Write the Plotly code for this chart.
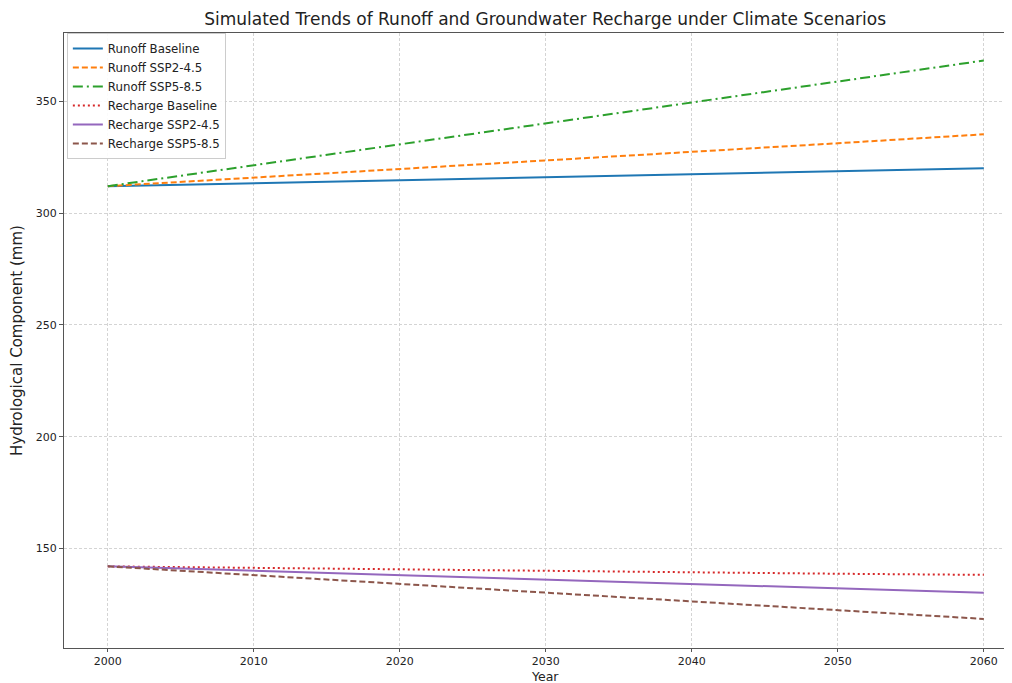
import plotly.graph_objects as go

years = [2000, 2010, 2020, 2030, 2040, 2050, 2060]
runoff_baseline = [312.0, 313.3, 314.8, 316.0, 317.3, 318.6, 320.0]
runoff_ssp245 = [312.0, 315.8, 319.7, 323.6, 327.4, 331.2, 335.2]
runoff_ssp585 = [312.0, 321.3, 330.7, 340.2, 349.4, 358.8, 368.2]
recharge_baseline = [142.0, 141.3, 140.7, 140.0, 139.3, 138.7, 138.2]
recharge_ssp245 = [142.0, 140.0, 138.1, 136.1, 134.1, 132.1, 130.2]
recharge_ssp585 = [142.0, 138.1, 134.2, 130.3, 126.3, 122.4, 118.5]

series = [
    ("Runoff Baseline", runoff_baseline, "#1f77b4", "solid"),
    ("Runoff SSP2-4.5", runoff_ssp245, "#ff7f0e", "6px,3px"),
    ("Runoff SSP5-8.5", runoff_ssp585, "#2ca02c", "10px,4px,2px,4px"),
    ("Recharge Baseline", recharge_baseline, "#d62728", "2px,3px"),
    ("Recharge SSP2-4.5", recharge_ssp245, "#9467bd", "solid"),
    ("Recharge SSP5-8.5", recharge_ssp585, "#8c564b", "6px,3px"),
]

fig = go.Figure()
for name, vals, color, dash in series:
    fig.add_trace(go.Scatter(x=years, y=vals, mode="lines", name=name,
                             line=dict(color=color, width=2, dash=dash)))

font = "DejaVu Sans, Liberation Sans, sans-serif"
plot_h = 675 - 25 - 35
fig.update_layout(
    width=1004, height=675,
    margin=dict(l=56, r=0, t=25, b=35),
    paper_bgcolor="white", plot_bgcolor="white",
    font=dict(family=font, size=11, color="#222"),
    title=dict(text="Simulated Trends of Runoff and Groundwater Recharge under Climate Scenarios",
               x=0.535, xref="container", y=0.984, yref="container", xanchor="center", yanchor="middle",
               font=dict(size=17, color="#222")),
    legend=dict(x=0.003, y=1.0, xanchor="left", yanchor="top",
                bgcolor="rgba(255,255,255,0.9)", bordercolor="#cccccc", borderwidth=1,
                font=dict(size=11.8), tracegroupgap=0, itemwidth=30),
    showlegend=True,
    annotations=[dict(text="Year", xref="paper", yref="paper", x=0.507, y=-35 / plot_h,
                      xanchor="center", yanchor="bottom", showarrow=False, yshift=-2,
                      borderpad=0, font=dict(size=12.5, color="#222"))],
)
fig.update_xaxes(
    range=[1997, 2061.93], tickvals=[2000, 2010, 2020, 2030, 2040, 2050, 2060],
    showgrid=True, gridcolor="#d4d4d4", griddash="3px,2px", gridwidth=1,
    showline=True, linecolor="#555", linewidth=1, mirror=True,
    ticks="outside", ticklen=3, tickcolor="#555", zeroline=False,
    automargin=False,
)
fig.update_yaxes(
    range=[105.5, 380.5], tickvals=[150, 200, 250, 300, 350],
    showgrid=True, gridcolor="#d4d4d4", griddash="3px,2px", gridwidth=1,
    showline=True, linecolor="#555", linewidth=1, mirror=False,
    ticks="outside", ticklen=4, tickcolor="#555", zeroline=False,
    title=dict(text="Hydrological Component (mm)", font=dict(size=15), standoff=9),
    automargin=False,
)

fig.write_html("out.html")
